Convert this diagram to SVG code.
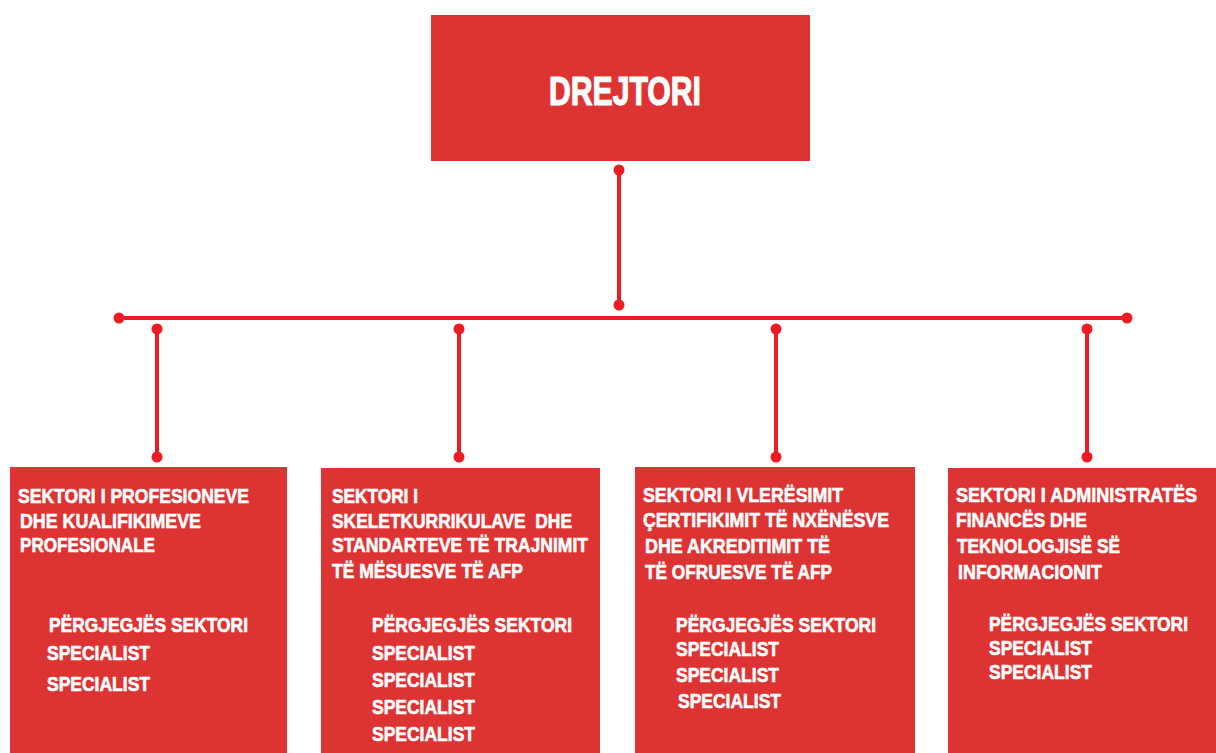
<svg xmlns="http://www.w3.org/2000/svg" width="1216" height="753" viewBox="0 0 1216 753">
<style>
.box{fill:#DD3333}
.t{font-family:"Liberation Sans",Arial,sans-serif;font-weight:bold;fill:#ffffff;font-size:20px;stroke:#ffffff;stroke-width:0.6;white-space:pre}
.h{font-size:41px;stroke-width:1.2}
.c{stroke:#ED1C24;stroke-width:4;fill:none}
.d{fill:#ED1C24}
</style>
<rect width="1216" height="753" fill="#ffffff"/>
<g id="connectors">
<line class="c" x1="619" y1="170" x2="619" y2="305"/>
<circle class="d" cx="619" cy="170" r="5.5"/>
<circle class="d" cx="619" cy="305" r="5.5"/>
<line class="c" x1="119" y1="318" x2="1127" y2="318"/>
<circle class="d" cx="119" cy="318" r="5.5"/>
<circle class="d" cx="1127" cy="318" r="5.5"/>
<line class="c" x1="157" y1="329" x2="157" y2="457"/>
<circle class="d" cx="157" cy="329" r="5.5"/>
<circle class="d" cx="157" cy="457" r="5.5"/>
<line class="c" x1="459" y1="329" x2="459" y2="457"/>
<circle class="d" cx="459" cy="329" r="5.5"/>
<circle class="d" cx="459" cy="457" r="5.5"/>
<line class="c" x1="776" y1="329" x2="776" y2="457"/>
<circle class="d" cx="776" cy="329" r="5.5"/>
<circle class="d" cx="776" cy="457" r="5.5"/>
<line class="c" x1="1087" y1="329" x2="1087" y2="457"/>
<circle class="d" cx="1087" cy="329" r="5.5"/>
<circle class="d" cx="1087" cy="457" r="5.5"/>
</g>
<g id="drejtori">
<rect class="box" x="431" y="15" width="379" height="146"/>
<text class="t h" x="549" y="105" textLength="152" lengthAdjust="spacingAndGlyphs">DREJTORI</text>
</g>
<g id="sektor1">
<rect class="box" x="10" y="467" width="277" height="286"/>
<text class="t" x="18" y="503" textLength="231" lengthAdjust="spacingAndGlyphs">SEKTORI I PROFESIONEVE</text>
<text class="t" x="20" y="528" textLength="181" lengthAdjust="spacingAndGlyphs">DHE KUALIFIKIMEVE</text>
<text class="t" x="20" y="552" textLength="135" lengthAdjust="spacingAndGlyphs">PROFESIONALE</text>
<text class="t" x="49" y="632" textLength="199" lengthAdjust="spacingAndGlyphs">PËRGJEGJËS SEKTORI</text>
<text class="t" x="47" y="660" textLength="103" lengthAdjust="spacingAndGlyphs">SPECIALIST</text>
<text class="t" x="47" y="691" textLength="103" lengthAdjust="spacingAndGlyphs">SPECIALIST</text>
</g>
<g id="sektor2">
<rect class="box" x="321" y="468" width="279" height="285"/>
<text class="t" x="332" y="503" textLength="86" lengthAdjust="spacingAndGlyphs">SEKTORI I</text>
<text class="t" x="332" y="528" textLength="240" lengthAdjust="spacingAndGlyphs">SKELETKURRIKULAVE  DHE</text>
<text class="t" x="332" y="552" textLength="256" lengthAdjust="spacingAndGlyphs">STANDARTEVE TË TRAJNIMIT</text>
<text class="t" x="332" y="578" textLength="191" lengthAdjust="spacingAndGlyphs">TË MËSUESVE TË AFP</text>
<text class="t" x="372" y="632" textLength="200" lengthAdjust="spacingAndGlyphs">PËRGJEGJËS SEKTORI</text>
<text class="t" x="372" y="660" textLength="103" lengthAdjust="spacingAndGlyphs">SPECIALIST</text>
<text class="t" x="372" y="687" textLength="103" lengthAdjust="spacingAndGlyphs">SPECIALIST</text>
<text class="t" x="372" y="714" textLength="103" lengthAdjust="spacingAndGlyphs">SPECIALIST</text>
<text class="t" x="372" y="741" textLength="103" lengthAdjust="spacingAndGlyphs">SPECIALIST</text>
</g>
<g id="sektor3">
<rect class="box" x="635" y="467" width="280" height="286"/>
<text class="t" x="643" y="502" textLength="200" lengthAdjust="spacingAndGlyphs">SEKTORI I VLERËSIMIT</text>
<text class="t" x="643" y="527" textLength="246" lengthAdjust="spacingAndGlyphs">ÇERTIFIKIMIT TË NXËNËSVE</text>
<text class="t" x="645" y="553" textLength="185" lengthAdjust="spacingAndGlyphs">DHE AKREDITIMIT TË</text>
<text class="t" x="645" y="579" textLength="187" lengthAdjust="spacingAndGlyphs">TË OFRUESVE TË AFP</text>
<text class="t" x="676" y="632" textLength="200" lengthAdjust="spacingAndGlyphs">PËRGJEGJËS SEKTORI</text>
<text class="t" x="676" y="656" textLength="103" lengthAdjust="spacingAndGlyphs">SPECIALIST</text>
<text class="t" x="676" y="682" textLength="103" lengthAdjust="spacingAndGlyphs">SPECIALIST</text>
<text class="t" x="678" y="708" textLength="103" lengthAdjust="spacingAndGlyphs">SPECIALIST</text>
</g>
<g id="sektor4">
<rect class="box" x="948" y="468" width="268" height="285"/>
<text class="t" x="956" y="502" textLength="241" lengthAdjust="spacingAndGlyphs">SEKTORI I ADMINISTRATËS</text>
<text class="t" x="956" y="527" textLength="131" lengthAdjust="spacingAndGlyphs">FINANCËS DHE</text>
<text class="t" x="957" y="553" textLength="163" lengthAdjust="spacingAndGlyphs">TEKNOLOGJISË SË</text>
<text class="t" x="958" y="579" textLength="144" lengthAdjust="spacingAndGlyphs">INFORMACIONIT</text>
<text class="t" x="989" y="631" textLength="199" lengthAdjust="spacingAndGlyphs">PËRGJEGJËS SEKTORI</text>
<text class="t" x="989" y="655" textLength="103" lengthAdjust="spacingAndGlyphs">SPECIALIST</text>
<text class="t" x="989" y="679" textLength="103" lengthAdjust="spacingAndGlyphs">SPECIALIST</text>
</g>
</svg>
